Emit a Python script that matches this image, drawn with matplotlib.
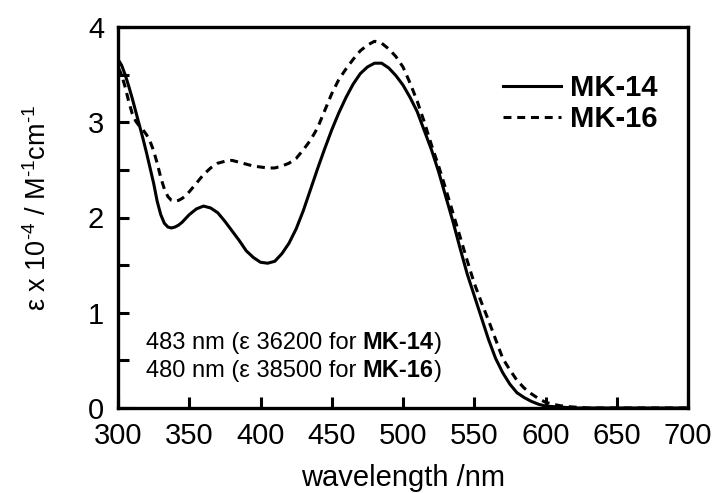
import matplotlib
matplotlib.use("Agg")
import matplotlib.pyplot as plt

plt.rcParams['font.family'] = ['Liberation Sans', 'DejaVu Sans']
plt.rcParams['mathtext.fontset'] = 'custom'
plt.rcParams['mathtext.rm'] = 'Liberation Sans'
plt.rcParams['mathtext.it'] = 'Liberation Sans:italic'
plt.rcParams['mathtext.bf'] = 'Liberation Sans:bold'

# absorption spectra (epsilon in 10^4 M^-1 cm^-1)
wl = [300, 302.5, 305, 307.5, 310, 312.5, 315, 317.5, 320, 322.5, 325, 327.5,
      330, 332.5, 335, 337.5, 340, 342.5, 345, 347.5,
      350, 355, 360, 365, 370, 375, 380, 385, 390, 395, 400, 405, 410, 415,
      420, 425, 430, 435, 440, 445, 450, 455, 460, 465, 470, 475, 480, 485,
      490, 495, 500, 505, 510, 515, 520, 525, 530, 535, 540, 545, 550, 555,
      560, 565, 570, 575, 580, 585, 590, 595, 600, 605, 610, 615, 620, 630,
      650, 700]
mk14 = [3.66, 3.60, 3.50, 3.38, 3.25, 3.11, 2.97, 2.83, 2.68, 2.52, 2.36, 2.17,
        2.03, 1.94, 1.90, 1.89, 1.90, 1.92, 1.95, 1.99,
        2.03, 2.09, 2.12, 2.10, 2.05, 1.96, 1.86, 1.76, 1.65, 1.58, 1.53, 1.52,
        1.54, 1.62, 1.73, 1.88, 2.07, 2.29, 2.51, 2.72, 2.92, 3.10, 3.26, 3.40,
        3.51, 3.58, 3.62, 3.62, 3.57, 3.49, 3.39, 3.26, 3.11, 2.91, 2.71, 2.48,
        2.22, 1.96, 1.68, 1.41, 1.18, 0.95, 0.72, 0.52, 0.37, 0.25, 0.16, 0.11,
        0.07, 0.04, 0.02, 0.015, 0.01, 0.005, 0.0, 0.0, 0.0, 0.0]
mk16 = [3.58, 3.50, 3.37, 3.22, 3.09, 3.01, 2.96, 2.92, 2.87, 2.80, 2.70, 2.57,
        2.42, 2.30, 2.22, 2.18, 2.17, 2.18, 2.20, 2.23,
        2.27, 2.36, 2.45, 2.52, 2.57, 2.59, 2.60, 2.58, 2.56, 2.54, 2.53, 2.52,
        2.52, 2.54, 2.57, 2.62, 2.71, 2.81, 2.94, 3.12, 3.30, 3.45, 3.56, 3.66,
        3.75, 3.81, 3.85, 3.83, 3.77, 3.69, 3.58, 3.41, 3.22, 3.00, 2.76, 2.54,
        2.30, 2.05, 1.80, 1.55, 1.31, 1.11, 0.92, 0.72, 0.52, 0.40, 0.29, 0.21,
        0.15, 0.10, 0.06, 0.04, 0.025, 0.015, 0.01, 0.0, 0.0, 0.0]

labels = ['MK-14', 'MK-16']
peaks = [('483 nm (\u03b5 36200 for', 'MK-14'),
         ('480 nm (\u03b5 38500 for', 'MK-16')]

fig = plt.figure(figsize=(7.16, 4.93), dpi=100)
ax = fig.add_axes([118 / 716, 1 - 408 / 493, 570 / 716, 381 / 493])

ax.plot(wl, mk14, color='black', lw=2.2, label=labels[0])
ax.plot(wl, mk16, color='black', lw=2.2, ls=(0, (2.6, 1.9)), label=labels[1])

ax.set_xlim(300, 700)
ax.set_ylim(0, 4)
ax.set_xticks(range(300, 701, 50))
ax.set_yticks([0, 1, 2, 3, 4])
ax.set_yticks([0.5, 1.5, 2.5, 3.5], minor=True)
ax.tick_params(which='both', direction='in', length=8, width=2.2,
               labelsize=21, pad=10, top=False, right=False)
for s in ax.spines.values():
    s.set_linewidth(2.4)

ax.set_xlabel('wavelength /nm', fontsize=21, labelpad=10)
ax.set_ylabel('\u03b5 x 10$^{\\text{-}4}$ / M$^{\\text{-}1}$cm$^{\\text{-}1}$',
              fontsize=19.5, labelpad=26)
ax.yaxis.label.set_y(0.525)

ax.legend(loc='upper left', bbox_to_anchor=(0.675, 0.876), frameon=False,
          borderpad=0, borderaxespad=0, handlelength=2.0, handletextpad=0.3,
          labelspacing=0.1, prop={'size': 21, 'weight': 'bold'})

# peak annotations, compound name in bold
y0 = 0.171
for i, (txt, name) in enumerate(peaks):
    t1 = ax.text(0.05, y0 - i * 0.0735, txt, transform=ax.transAxes,
                 fontsize=17, va='center')
    t2 = ax.annotate(name, xy=(1, 0), xycoords=t1, xytext=(4, 0),
                     textcoords='offset points', fontsize=17,
                     fontweight='bold', va='bottom')
    ax.annotate(')', xy=(1, 0), xycoords=t2, fontsize=17, va='bottom')

fig.savefig('out.png', dpi=100)
